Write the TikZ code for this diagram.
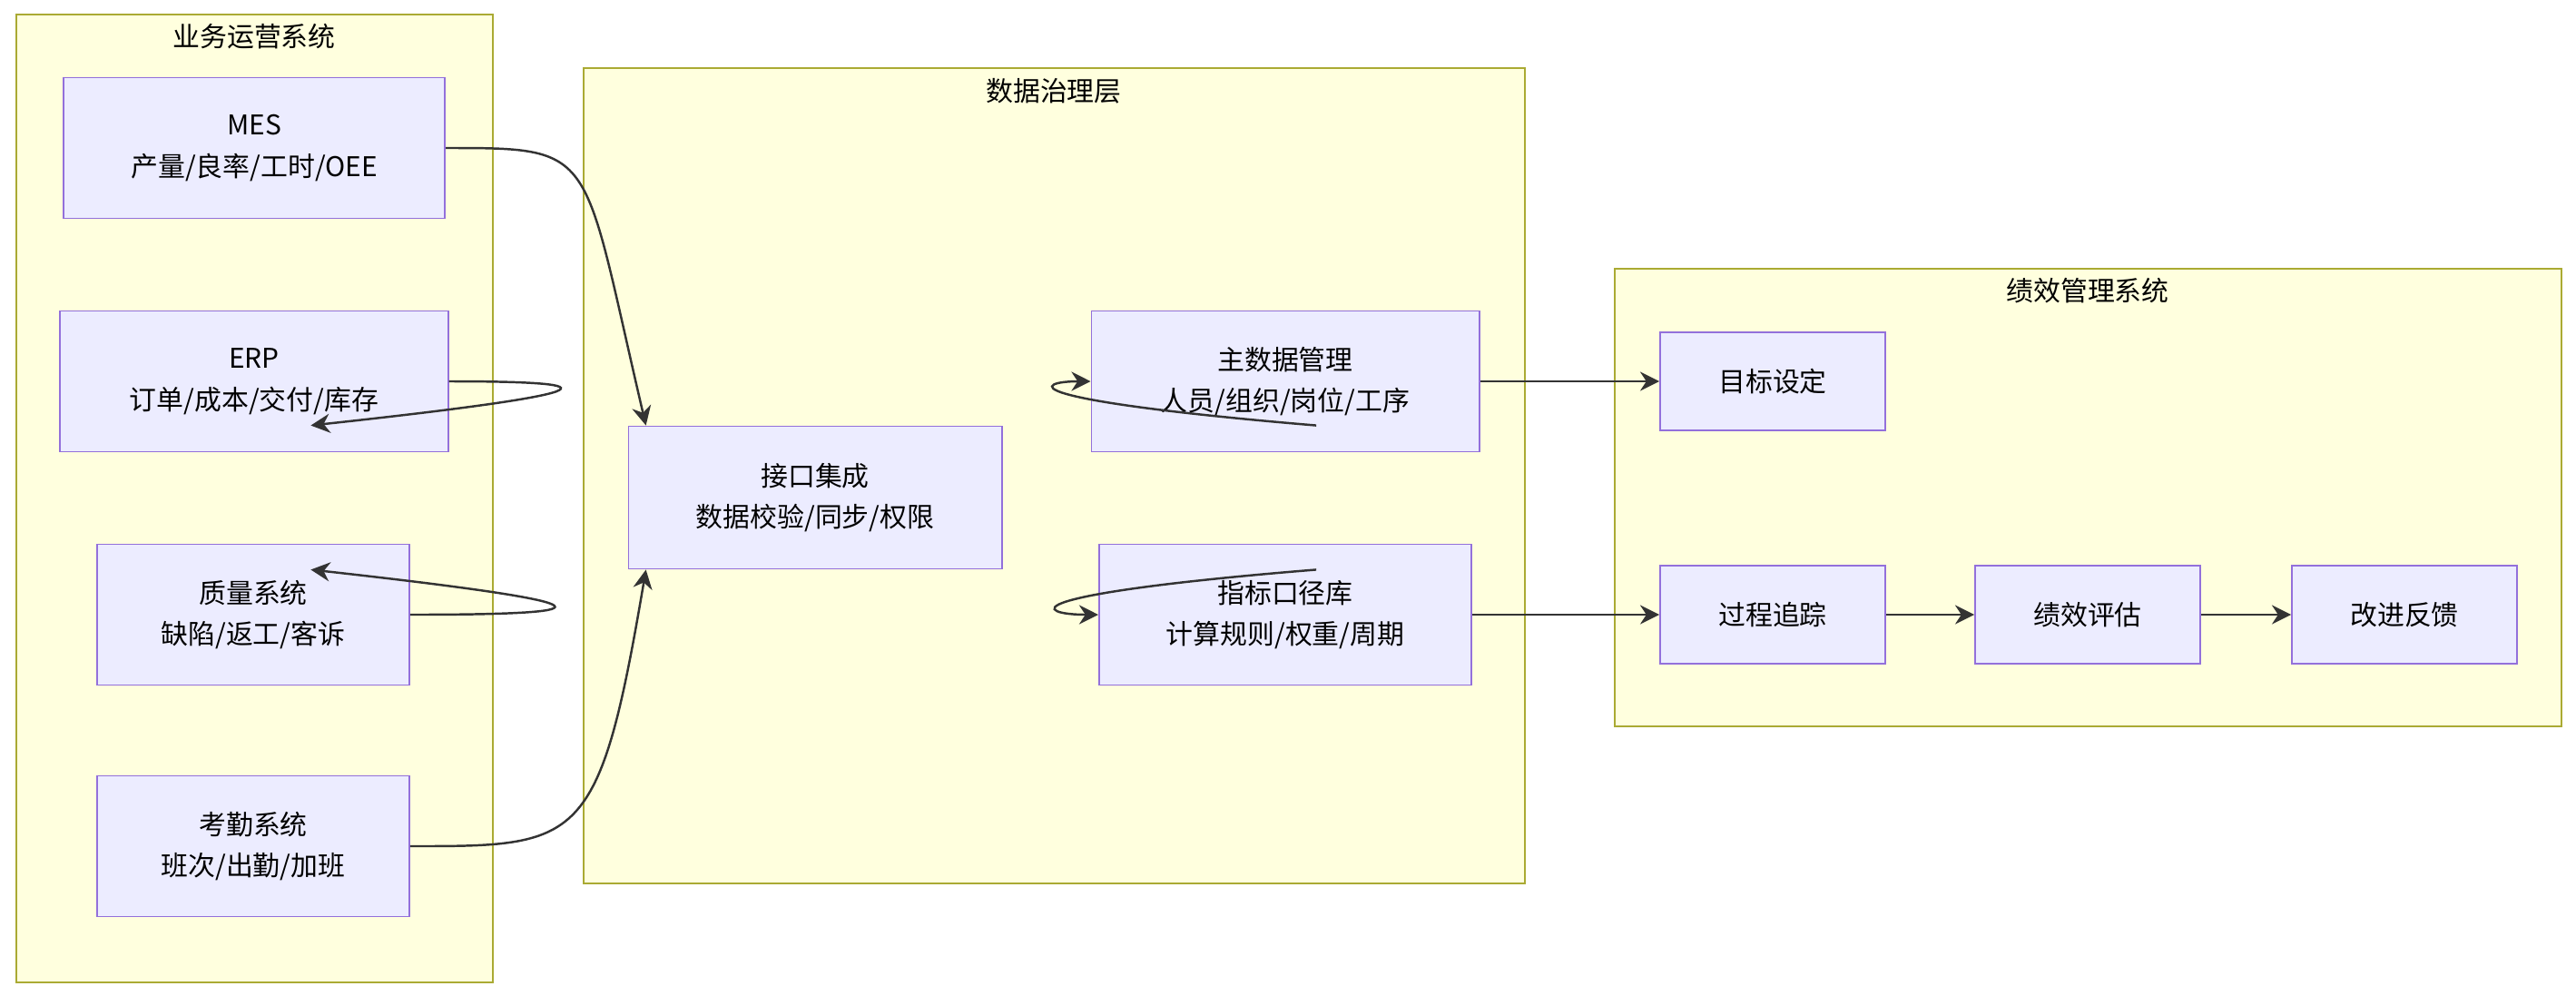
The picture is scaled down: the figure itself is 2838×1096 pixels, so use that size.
\documentclass[tikz,border=0pt]{standalone}
\usepackage{fontspec}
\setmainfont{Noto Sans CJK SC}
\usetikzlibrary{arrows.meta,positioning}
\definecolor{nodefill}{HTML}{ECECFF}
\definecolor{nodeline}{HTML}{9370DB}
\definecolor{groupfill}{HTML}{FFFFDE}
\definecolor{groupline}{HTML}{AAAA33}
\definecolor{edgeline}{HTML}{333333}
\begin{document}
\begin{tikzpicture}[x=0.01cm,y=-0.01cm,>={Stealth[length=6pt,width=6pt]},
                    font=\fontsize{8.5}{13}\selectfont]
	\tikzset{box/.style={draw=nodeline,fill=nodefill,line width=0.5pt,align=center,inner sep=0pt},
	         group/.style={draw=groupline,fill=groupfill,line width=0.5pt},
	         link/.style={->,draw=edgeline,line width=0.7pt}}
	\useasboundingbox (0,0) rectangle (2838,1096);

	% groups
	\draw[group] (18,16) rectangle (543,1082);
	\node (g-ops) at (280,40) {业务运营系统};
	\draw[group] (643,75) rectangle (1680,973);
	\node (g-data) at (1161,100) {数据治理层};
	\draw[group] (1779,296) rectangle (2822,800);
	\node (g-perf) at (2300,320) {绩效管理系统};

	% source systems
	\node[box,minimum width=4.2cm,minimum height=1.55cm]  (mes) at (280,163) {MES\\产量/良率/工时/OEE};
	\node[box,minimum width=4.27cm,minimum height=1.55cm] (erp) at (280,420) {ERP\\订单/成本/交付/库存};
	\node[box,minimum width=3.44cm,minimum height=1.55cm] (qms) at (279,677) {质量系统\\缺陷/返工/客诉};
	\node[box,minimum width=3.44cm,minimum height=1.55cm] (att) at (279,932) {考勤系统\\班次/出勤/加班};

	% governance
	\node[box,minimum width=4.11cm,minimum height=1.57cm] (api) at (898,548) {接口集成\\数据校验/同步/权限};
	\node[box,minimum width=4.27cm,minimum height=1.55cm] (mdm) at (1416,420) {主数据管理\\人员/组织/岗位/工序};
	\node[box,minimum width=4.1cm,minimum height=1.55cm]  (kpi) at (1416,677) {指标口径库\\计算规则/权重/周期};

	% performance
	\node[box,minimum width=2.48cm,minimum height=1.08cm] (goal)  at (1953,420) {目标设定};
	\node[box,minimum width=2.48cm,minimum height=1.08cm] (track) at (1953,677) {过程追踪};
	\node[box,minimum width=2.48cm,minimum height=1.08cm] (eval)  at (2300,677) {绩效评估};
	\node[box,minimum width=2.48cm,minimum height=1.08cm] (impr)  at (2649,677) {改进反馈};

	\draw[link] (mes.east) .. controls (660,163) and (640,163) .. ([xshift=-53]api.north);
	\draw[link] (erp.east) .. controls (660,420) and (700,430) .. ([xshift=-158]api.north);
	\draw[link] (qms.east) .. controls (660,677) and (700,667) .. ([xshift=-158]api.south);
	\draw[link] (att.east) .. controls (640,932) and (660,932) .. ([xshift=-53]api.south);
	\draw[link] ([xshift=157]api.north) .. controls (1110,440) and (1140,420) .. (mdm.west);
	\draw[link] ([xshift=157]api.south) .. controls (1110,655) and (1140,677) .. (kpi.west);
	\draw[link] (mdm) -- (goal);
	\draw[link] (kpi) -- (track);
	\draw[link] (track) -- (eval);
	\draw[link] (eval) -- (impr);
\end{tikzpicture}
\end{document}
